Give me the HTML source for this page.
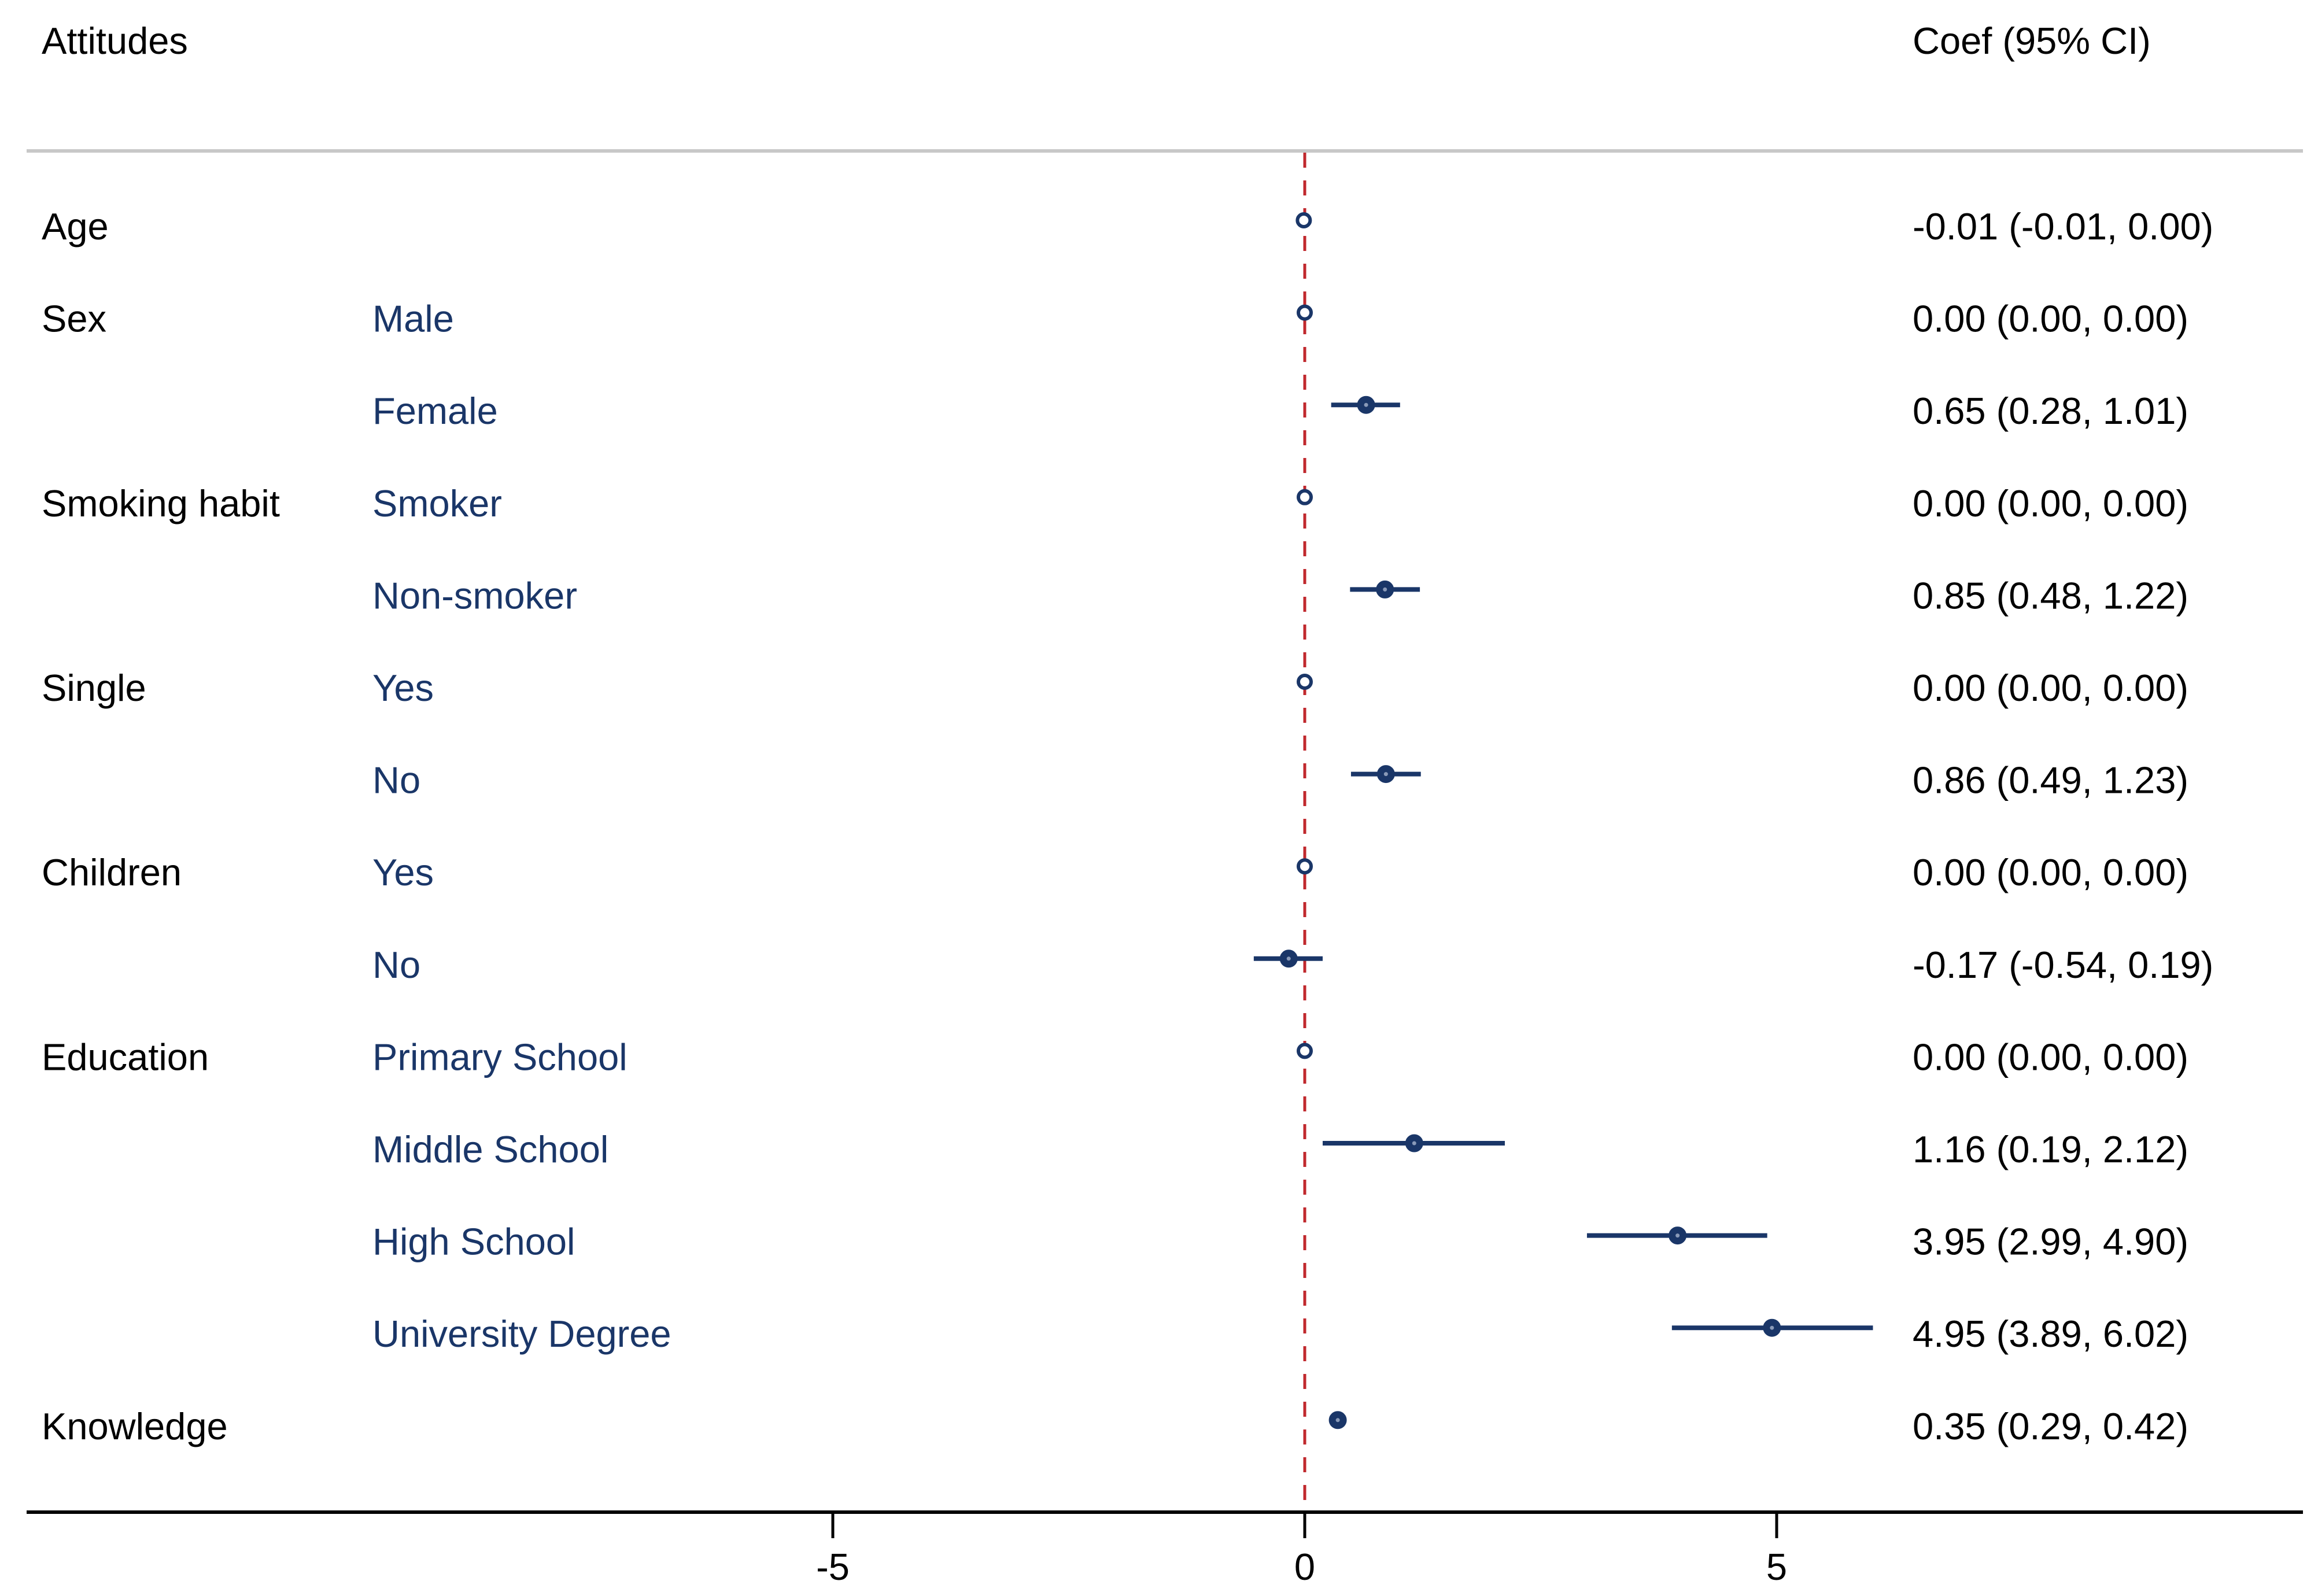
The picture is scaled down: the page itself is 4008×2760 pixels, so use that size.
<!DOCTYPE html>
<html><head><meta charset="utf-8"><style>
html,body{margin:0;padding:0;background:#fff;}
svg{display:block;font-family:"Liberation Sans",Arial,sans-serif;}
</style></head><body>
<svg id="chart" width="4008" height="2760" viewBox="0 0 4008 2760" xmlns="http://www.w3.org/2000/svg">
<rect width="4008" height="2760" fill="#fff"/>
<text x="72" y="93" font-size="65" fill="#000">Attitudes</text>
<text x="3307" y="93" font-size="65" fill="#000">Coef (95% CI)</text>
<line x1="46" y1="261" x2="3982" y2="261" stroke="#c8c8c8" stroke-width="6"/>
<g id="plot"></g>
</svg>
<script>
const groups = ["Age","Sex","","Smoking habit","","Single","","Children","","Education","","","","Knowledge"];
const levels = ["","Male","Female","Smoker","Non-smoker","Yes","No","Yes","No","Primary School","Middle School","High School","University Degree",""];
const coefs = [-0.01,0.00,0.65,0.00,0.85,0.00,0.86,0.00,-0.17,0.00,1.16,3.95,4.95,0.35];
const lows  = [-0.01,0.00,0.28,0.00,0.48,0.00,0.49,0.00,-0.54,0.00,0.19,2.99,3.89,0.29];
const highs = [0.00,0.00,1.01,0.00,1.22,0.00,1.23,0.00,0.19,0.00,2.12,4.90,6.02,0.42];
const ticks = [-5,0,5];

const NS="http://www.w3.org/2000/svg";
const g=document.getElementById('plot');
const x0=2256, pxPerUnit=163.2;
function xs(v){return x0+v*pxPerUnit;}
const rowTop=381, rowStep=159.6;
function ys(i){return rowTop+i*rowStep;}
function mk(tag,attrs){const e=document.createElementNS(NS,tag);for(const k in attrs)e.setAttribute(k,attrs[k]);g.appendChild(e);return e;}
const navy="#1a3668";
function fmt(v){return v.toFixed(2);}

const ref=mk('line',{x1:xs(0),y1:264,x2:xs(0),y2:2615,stroke:"#c0282d","stroke-width":5,"stroke-dasharray":"26 22"});



const ax=mk('line',{x1:46,y1:2615,x2:3982,y2:2615,stroke:"#000","stroke-width":6});


ticks.forEach(t=>{
  const tl=mk('line',{x1:xs(t),y1:2615,x2:xs(t),y2:2660,stroke:"#000","stroke-width":5});
  
  
  const tt=mk('text',{x:xs(t),y:2732,"font-size":65,"text-anchor":"middle",fill:"#000"});
  tt.textContent=String(t);
  
  
});

coefs.forEach((c,i)=>{
  const y=ys(i);
  if(groups[i]){
    const t=mk('text',{x:72,y:y+33,"font-size":65,fill:"#000"});
    t.textContent=groups[i];
    
    
  }
  if(levels[i]){
    const t=mk('text',{x:644,y:y+33,"font-size":65,fill:navy});
    t.textContent=levels[i];
    
    
  }
  const ci=mk('line',{x1:xs(lows[i]),y1:y,x2:xs(highs[i]),y2:y,stroke:navy,"stroke-width":8});
  
  
  const zero=(highs[i]-lows[i])<0.05;
  const p=mk('circle',{cx:xs(c),cy:y,r:zero?11:14,fill:zero?"#fff":navy,stroke:navy,"stroke-width":zero?6:3});
  
  
  if(!zero){
    const d=mk('circle',{cx:xs(c),cy:y,r:3.5,fill:"#8a9ab8"});
    
    
  }
  const v=mk('text',{x:3307,y:y+33,"font-size":65,fill:"#000"});
  v.textContent=fmt(c)+" ("+fmt(lows[i])+", "+fmt(highs[i])+")";
  
  
});
</script>
</body></html>
